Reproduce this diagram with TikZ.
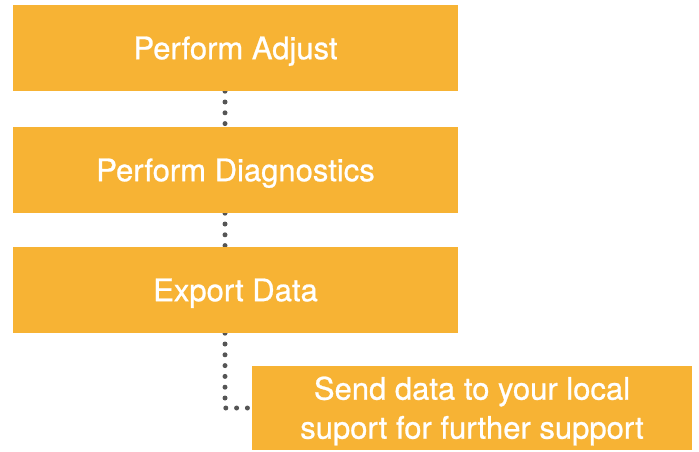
\documentclass[tikz,border=0pt]{standalone}
\usepackage{fontspec}
\setmainfont{TeX Gyre Heros}[UprightFeatures={FakeBold=0.8}]
\usetikzlibrary{backgrounds}
\definecolor{boxorange}{HTML}{F7B334}
\definecolor{dotgray}{HTML}{555555}
\tikzset{
  stepbox/.style={fill=boxorange, draw=none, text=white, minimum width=445pt, minimum height=86pt, inner sep=0pt, font=\fontsize{31}{39}\selectfont, align=center, text height=22.3pt, text depth=0pt},
  dotline/.style={draw=dotgray, line width=5pt, line cap=round, dash pattern=on 0pt off 10.8pt}
}
\begin{document}
\begin{tikzpicture}[x=1pt,y=-1pt]
\useasboundingbox (0,0) rectangle (699,452);
\node[stepbox] (a) at (235.5,48) {Perform Adjust};
\node[stepbox] (b) at (235.5,170) {Perform Diagnostics};
\node[stepbox] (c) at (235.5,290) {Export Data};
\node[stepbox, minimum width=440pt, minimum height=84pt, text height=61.3pt, text depth=0pt] (d) at (472,408) {Send data to your local\\suport for further support};
\begin{scope}[on background layer]
\draw[dotline] (a.south -| 225,0) -- (b.north -| 225,0);
\draw[dotline] (b.south -| 225,0) -- (c.north -| 225,0);
\draw[dotline] (c.south -| 225,0) |- (d.west);
\end{scope}
\end{tikzpicture}
\end{document}
